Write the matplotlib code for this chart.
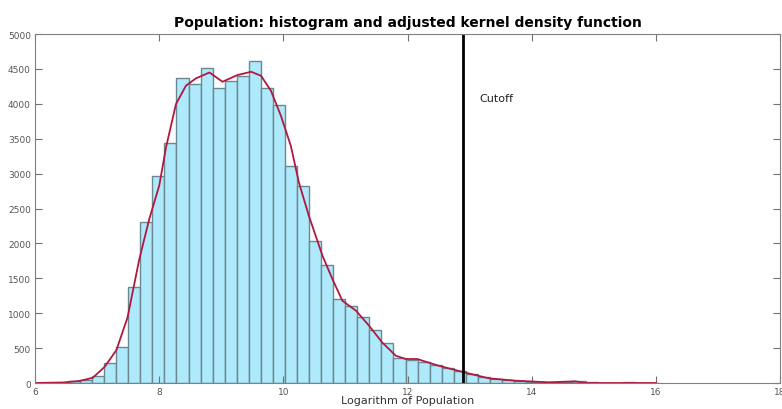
import numpy as np
import matplotlib
matplotlib.use("Agg")
import matplotlib.pyplot as plt

# histogram: 50 bins of log(population)
bin_start = 6.336
bin_width = 0.1942
counts = [5, 25, 47, 105, 282, 520, 1380, 2311, 2961, 3434,
          4365, 4279, 4517, 4226, 4322, 4403, 4620, 4221, 3983, 3113,
          2827, 2039, 1695, 1203, 1108, 950, 764, 573, 358, 330,
          305, 258, 210, 176, 129, 81, 57, 43, 29, 19,
          15, 12, 10, 22, 8, 4, 5, 10, 3, 3]

# adjusted kernel density (scaled to counts)
kde_x = [6.0, 6.46, 6.72, 6.93, 7.12, 7.31, 7.49, 7.68, 7.84, 8.00,
         8.11, 8.27, 8.43, 8.59, 8.81, 9.02, 9.26, 9.48, 9.64, 9.80,
         9.96, 10.12, 10.25, 10.41, 10.63, 10.79, 10.95, 11.17, 11.38, 11.59,
         11.81, 11.97, 12.16, 12.24, 12.50, 12.91, 13.31, 13.74, 14.27, 14.70,
         14.86, 16.0]
kde_y = [0, 8, 30, 75, 230, 470, 940, 1776, 2350, 2827,
         3377, 3997, 4260, 4365, 4450, 4317, 4413, 4460, 4403, 4188,
         3830, 3400, 2875, 2397, 1824, 1490, 1179, 1036, 821, 583,
         391, 344, 344, 320, 248, 153, 67, 33, 10, 24,
         0, 0]

cutoff = 12.9

fig = plt.figure(figsize=(7.82, 4.10), dpi=100)
ax = fig.add_axes([0.0448, 0.0634, 0.9527, 0.851])

edges = bin_start + bin_width * np.arange(len(counts) + 1)
ax.bar(edges[:-1], counts, width=bin_width, align="edge",
       color="#aeeafb", edgecolor="#6b8890", linewidth=1.0)
ax.plot(kde_x, kde_y, color="#b2183f", linewidth=1.3)
ax.axvline(cutoff, color="black", linewidth=2)
ax.text(13.15, 4080, "Cutoff", fontsize=8, va="center", ha="left", color="#222222")

ax.set_xlim(6, 18)
ax.set_ylim(0, 5000)
ax.set_xticks(range(6, 19, 2))
ax.set_yticks(range(0, 5001, 500))
ax.tick_params(direction="in", length=5, top=True, right=True,
               labelsize=6.5, colors="#707070", labelcolor="#555555", pad=3)
for s in ax.spines.values():
    s.set_color("#808080")

ax.set_title("Population: histogram and adjusted kernel density function",
             fontsize=10, fontweight="bold", pad=6)
ax.set_xlabel("Logarithm of Population", fontsize=8, color="#333333", labelpad=-1)

fig.savefig("out.png", dpi=100)
